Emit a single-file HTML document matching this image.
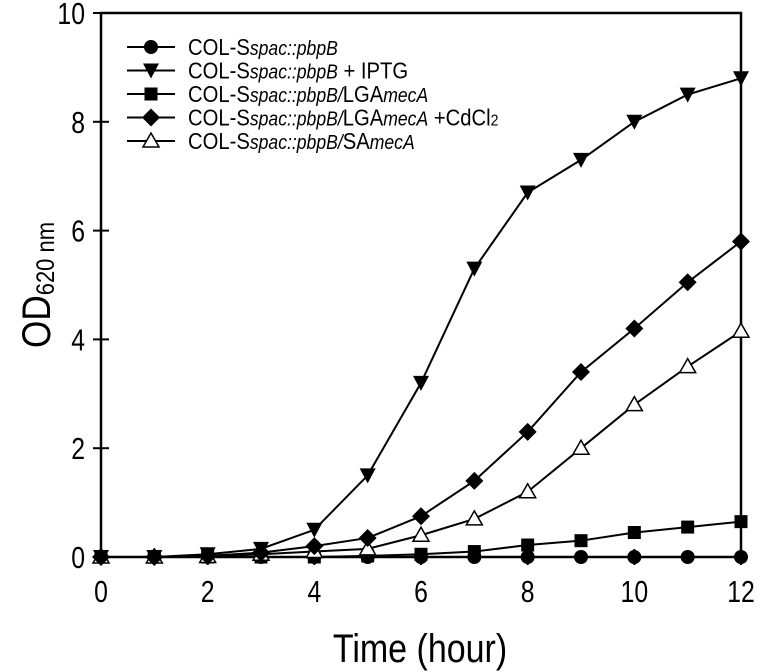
<!DOCTYPE html>
<html><head><meta charset="utf-8"><style>
body{margin:0;background:#fff}
svg{display:block;font-family:"Liberation Sans",Arial,sans-serif}
</style></head><body>
<svg id="chart" width="760" height="672" viewBox="0 0 760 672">
<g id="frame"></g>
<g id="series"></g>
<g id="legend"></g>
<text transform="translate(420,662) scale(0.85,1)" text-anchor="middle" font-size="40">Time (hour)</text>
<text transform="translate(50,285) rotate(-90) scale(0.88,1)" text-anchor="middle" font-size="40">OD<tspan font-size="25" dy="4">620 nm</tspan></text>
</svg>
<script>
const times=[0,1,2,3,4,5,6,7,8,9,10,11,12];
const sControl=[0,0,0,0,0,0,0,0,0,0,0,0,0];
const sIPTG=[0,0,0.05,0.15,0.5,1.5,3.2,5.3,6.7,7.3,8.0,8.5,8.8];
const sLGA=[0,0,0,0,0,0.02,0.05,0.1,0.22,0.3,0.45,0.55,0.65];
const sLGACd=[0,0,0.02,0.08,0.2,0.35,0.75,1.4,2.3,3.4,4.2,5.05,5.8];
const sSA=[0,0,0.01,0.05,0.1,0.15,0.4,0.7,1.2,2.0,2.8,3.5,4.15];
const xTicks=[0,2,4,6,8,10,12];
const yTicks=[0,2,4,6,8,10];
const legendLabels=[["COL-S","spac::pbpB",""],["COL-S","spac::pbpB"," + IPTG"],["COL-S","spac::pbpB/","LGA","mecA"],["COL-S","spac::pbpB/","LGA","mecA"," +CdCl","2"],["COL-S","spac::pbpB/","SA","mecA"]];
const NS="http://www.w3.org/2000/svg";
const X0=101,X1=741,Y0=557,Y1=13;
const xs=v=>X0+(v/12)*(X1-X0);
const ys=v=>Y0-(v/10)*(Y0-Y1);
function mk(t,a,p){const e=document.createElementNS(NS,t);for(const k in a)e.setAttribute(k,a[k]);p.appendChild(e);return e;}
const frame=document.getElementById('frame');
const fr=mk('rect',{x:X0,y:Y1,width:X1-X0,height:Y0-Y1,fill:'none',stroke:'#000','stroke-width':2.5},frame);


xTicks.forEach(v=>{
  const l=mk('line',{x1:xs(v),x2:xs(v),y1:Y0-8,y2:Y0+8,stroke:'#000','stroke-width':2},frame);
  
  
  const t=mk('text',{transform:`translate(${xs(v)},${Y0+45}) scale(0.8,1)`,'text-anchor':'middle','font-size':31},frame);t.textContent=v;
  
  
});
yTicks.forEach(v=>{
  const l=mk('line',{x1:X0-8,x2:X0+8,y1:ys(v),y2:ys(v),stroke:'#000','stroke-width':2},frame);
  
  
  const t=mk('text',{transform:`translate(${X0-16},${ys(v)+11}) scale(0.8,1)`,'text-anchor':'end','font-size':31},frame);t.textContent=v;
  
  
});
function marker(type,cx,cy,p){
  let e;
  if(type==='circle')e=mk('circle',{cx,cy,r:7,fill:'#000'},p);
  else if(type==='tridown')e=mk('polygon',{points:`${cx-8},${cy-7} ${cx+8},${cy-7} ${cx},${cy+8}`,fill:'#000'},p);
  else if(type==='square')e=mk('rect',{x:cx-6.5,y:cy-6.5,width:13,height:13,fill:'#000'},p);
  else if(type==='diamond')e=mk('polygon',{points:`${cx},${cy-9} ${cx+9},${cy} ${cx},${cy+9} ${cx-9},${cy}`,fill:'#000'},p);
  else e=mk('polygon',{points:`${cx},${cy-8} ${cx+8},${cy+6} ${cx-8},${cy+6}`,fill:'#fff',stroke:'#000','stroke-width':1.5},p);
  return e;
}
const seriesDefs=[[sControl,'circle','control'],[sLGA,'square','lgamecA'],[sSA,'triup','samecA'],[sLGACd,'diamond','lgamecA-cdcl2'],[sIPTG,'tridown','iptg']];
const sg=document.getElementById('series');
seriesDefs.forEach(([d,m,n])=>{
  const pl=mk('polyline',{points:d.map((v,i)=>xs(times[i])+','+ys(v)).join(' '),fill:'none',stroke:'#000','stroke-width':2},sg);
  
  
  d.forEach((v,i)=>{const e=marker(m,xs(times[i]),ys(v),sg);
    
    });
});
const lg=document.getElementById('legend');
const lm=['circle','tridown','square','diamond','triup'];
legendLabels.forEach((lab,i)=>{
  const y=47+i*23.5;
  const l=mk('line',{x1:127,x2:175,y1:y,y2:y,stroke:'#000','stroke-width':2},lg);
  
  
  const e=marker(lm[i],151,y,lg);
  
  
  const t=mk('text',{transform:`translate(188,${y+8}) scale(0.88,1)`,'font-size':23},lg);
  
  
  const parts=[[lab[0],0,0],[lab[1],1,0]];
  if(lab.length===3){if(lab[2])parts.push([lab[2],0,0]);}
  else{parts.push([lab[2],0,0],[lab[3],1,0]);if(lab[4])parts.push([lab[4],0,0],[lab[5],0,1]);}
  parts.forEach(([s,it,sub])=>{const ts=mk('tspan',{},t);ts.textContent=s;
    if(it){ts.setAttribute('font-style','italic');ts.setAttribute('font-size','20');}
    if(sub){ts.setAttribute('font-size','16');}});
});
</script>
</body></html>
